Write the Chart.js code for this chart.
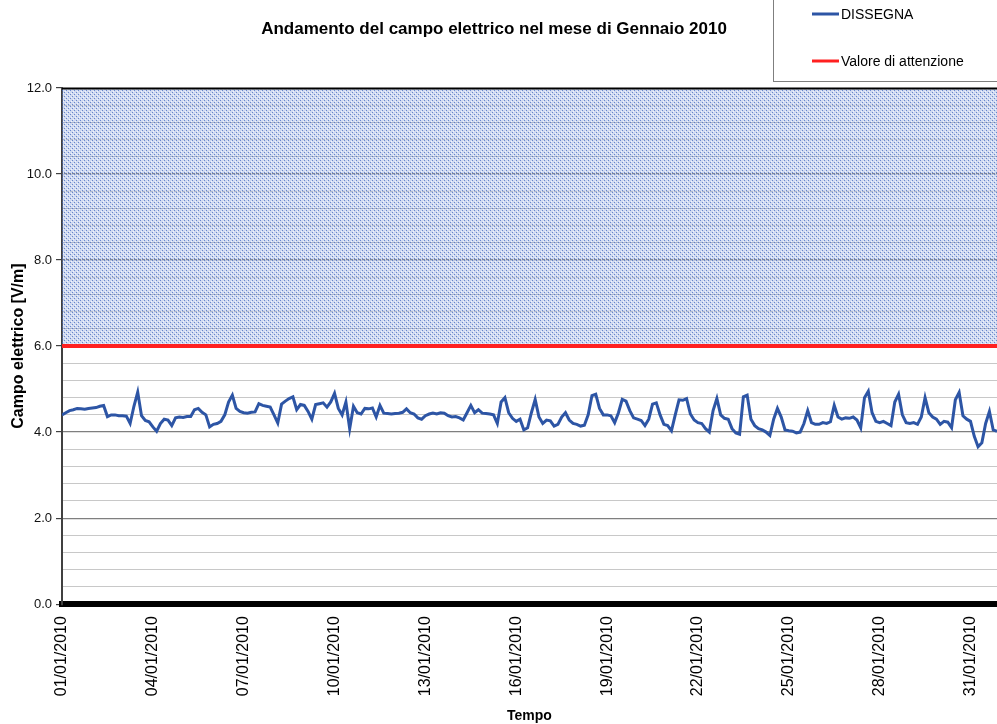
<!DOCTYPE html>
<html>
<head>
<meta charset="utf-8">
<script src="https://cdn.jsdelivr.net/npm/chart.js@4.4.1/dist/chart.umd.min.js"></script>
<style>
  html, body { margin: 0; padding: 0; background: #fff; }
  #wrap { width: 997px; height: 724px; }
</style>
</head>
<body>
<div id="wrap"><canvas id="grafico" width="997" height="724"></canvas></div>
<script>
// campo elettrico ogni 3 ore, gennaio 2010 (8 valori al giorno)
const dissegna = [
  4.40, 4.45, 4.50, 4.52, 4.55, 4.54, 4.53, 4.55,
  4.56, 4.57, 4.60, 4.62, 4.36, 4.40, 4.40, 4.38,
  4.38, 4.37, 4.20, 4.60, 4.93, 4.38, 4.27, 4.24,
  4.12, 4.02, 4.20, 4.30, 4.28, 4.15, 4.33, 4.35,
  4.34, 4.36, 4.36, 4.52, 4.55, 4.46, 4.40, 4.12,
  4.18, 4.20, 4.25, 4.40, 4.70, 4.86, 4.55, 4.48,
  4.45, 4.44, 4.46, 4.47, 4.66, 4.62, 4.60, 4.58,
  4.40, 4.21, 4.65, 4.72, 4.78, 4.82, 4.52, 4.64,
  4.62, 4.48, 4.30, 4.64, 4.66, 4.68, 4.58, 4.70,
  4.90, 4.55, 4.40, 4.70, 4.08, 4.60, 4.45, 4.42,
  4.55, 4.54, 4.56, 4.35, 4.62, 4.44, 4.43, 4.42,
  4.43, 4.44, 4.46, 4.54, 4.45, 4.42, 4.33, 4.30,
  4.38, 4.42, 4.44, 4.42, 4.45, 4.44, 4.38, 4.35,
  4.36, 4.33, 4.28, 4.45, 4.62, 4.45, 4.52, 4.44,
  4.43, 4.42, 4.40, 4.20, 4.70, 4.80, 4.45, 4.32,
  4.25, 4.30, 4.05, 4.10, 4.45, 4.76, 4.35, 4.20,
  4.28, 4.26, 4.14, 4.18, 4.35, 4.45, 4.28, 4.20,
  4.18, 4.14, 4.16, 4.40, 4.85, 4.88, 4.55, 4.40,
  4.40, 4.38, 4.22, 4.45, 4.76, 4.72, 4.50, 4.33,
  4.30, 4.27, 4.15, 4.30, 4.65, 4.68, 4.40, 4.18,
  4.15, 4.03, 4.40, 4.75, 4.74, 4.78, 4.42, 4.28,
  4.22, 4.20, 4.08, 4.00, 4.50, 4.78, 4.40, 4.32,
  4.30, 4.08, 3.98, 3.95, 4.82, 4.86, 4.30, 4.15,
  4.08, 4.05, 4.00, 3.92, 4.30, 4.55, 4.35, 4.05,
  4.03, 4.02, 3.98, 4.00, 4.20, 4.50, 4.22, 4.18,
  4.18, 4.22, 4.20, 4.24, 4.62, 4.35, 4.30, 4.33,
  4.32, 4.35, 4.28, 4.10, 4.80, 4.95, 4.45, 4.25,
  4.22, 4.25, 4.20, 4.15, 4.70, 4.88, 4.40, 4.22,
  4.20, 4.22, 4.18, 4.35, 4.80, 4.45, 4.35, 4.30,
  4.18, 4.25, 4.23, 4.10, 4.75, 4.92, 4.38, 4.30,
  4.25, 3.90, 3.66, 3.75, 4.20, 4.48, 4.05, 4.02
];
const passoOre = 3;
const valoreAttenzione = 6;
const limiteSuperiore = 12;
const fineOre = 741; // il grafico originale e' tagliato a destra
const etichetteDate = ['01/01/2010', '04/01/2010', '07/01/2010', '10/01/2010', '13/01/2010', '16/01/2010',
  '19/01/2010', '22/01/2010', '25/01/2010', '28/01/2010', '31/01/2010'];
const titolo = 'Andamento del campo elettrico nel mese di Gennaio 2010';

const font = "'Liberation Sans', Arial, sans-serif";

// retino azzurro per la zona sopra il valore di attenzione
function creaRetino() {
  const c = document.createElement('canvas');
  c.width = 4; c.height = 4;
  const g = c.getContext('2d');
  g.fillStyle = 'rgba(120,150,215,0.35)';
  g.fillRect(0, 0, 4, 4);
  g.fillStyle = 'rgba(70,105,190,0.75)';
  g.fillRect(0, 0, 1, 1);
  g.fillRect(2, 2, 1, 1);
  g.fillStyle = 'rgba(255,255,255,0.7)';
  g.fillRect(1, 3, 1, 1);
  g.fillRect(3, 1, 1, 1);
  return g.createPattern(c, 'repeat');
}

const isMaggiore = v => Math.abs(v / 2 - Math.round(v / 2)) < 1e-6;

const legendaManuale = {
  id: 'legendaManuale',
  afterDraw(chart) {
    const ctx = chart.ctx;
    ctx.save();
    ctx.fillStyle = '#fff';
    ctx.fillRect(773, -2, 230, 84);
    ctx.strokeStyle = '#7f7f7f';
    ctx.lineWidth = 1;
    ctx.strokeRect(773.5, -2, 230, 83.5);
    const voci = chart.data.datasets.filter(d => d.label);
    const righe = [14, 61];
    ctx.font = '14px ' + font;
    ctx.textBaseline = 'middle';
    voci.forEach((d, i) => {
      ctx.strokeStyle = d.borderColor;
      ctx.lineWidth = 3;
      ctx.beginPath();
      ctx.moveTo(812, righe[i]);
      ctx.lineTo(839, righe[i]);
      ctx.stroke();
      ctx.fillStyle = '#000';
      ctx.fillText(d.label, 841, righe[i] + 1);
    });
    ctx.font = 'bold 17px ' + font;
    ctx.textAlign = 'center';
    ctx.fillText(titolo, 494, 29);
    ctx.restore();
  }
};

const sfondoBianco = {
  id: 'sfondoBianco',
  beforeDraw(chart) {
    const ctx = chart.ctx;
    ctx.save();
    ctx.fillStyle = '#fff';
    ctx.fillRect(0, 0, chart.width, chart.height);
    ctx.restore();
  }
};

new Chart(document.getElementById('grafico'), {
  type: 'line',
  data: {
    datasets: [
      {
        label: 'DISSEGNA',
        data: dissegna.map((v, i) => ({ x: i * passoOre, y: v })),
        borderColor: '#2d55a5',
        borderWidth: 3,
        pointRadius: 0,
        tension: 0,
        order: 1
      },
      {
        label: 'Valore di attenzione',
        data: [{ x: 0, y: valoreAttenzione }, { x: fineOre, y: valoreAttenzione }],
        borderColor: '#ff2020',
        borderWidth: 4,
        pointRadius: 0,
        order: 0
      },
      {
        label: '',
        data: [{ x: 0, y: limiteSuperiore }, { x: fineOre, y: limiteSuperiore }],
        borderColor: '#000',
        borderWidth: 3,
        backgroundColor: creaRetino(),
        fill: { value: valoreAttenzione },
        pointRadius: 0,
        order: 2
      }
    ]
  },
  options: {
    responsive: false,
    animation: false,
    layout: { padding: { top: 88, right: 0, left: 0, bottom: -1 } },
    plugins: {
      legend: { display: false },
      title: { display: false },
      tooltip: { enabled: false }
    },
    scales: {
      x: {
        type: 'linear',
        min: 0,
        max: fineOre,
        afterFit(scale) { scale.paddingRight = 0; scale.paddingLeft = 0; },
        grid: { display: false, drawTicks: false },
        border: { color: '#000', width: 6 },
        title: { display: true, text: 'Tempo', color: '#000', font: { family: font, size: 14, weight: 'bold' }, padding: { top: 0, bottom: 0 } },
        ticks: {
          stepSize: 72,
          includeBounds: false,
          autoSkip: false,
          minRotation: 90,
          maxRotation: 90,
          padding: 12,
          color: '#000',
          font: { family: font, size: 16 },
          callback: (v) => etichetteDate[Math.round(v / 72)] || ''
        }
      },
      y: {
        min: 0,
        max: limiteSuperiore,
        afterFit(scale) { scale.width = 62; },
        border: { color: '#404040', width: 2 },
        grid: {
          color: c => isMaggiore(c.tick.value) ? '#7f7f7f' : '#c8c8c8',
          lineWidth: c => isMaggiore(c.tick.value) ? 1.2 : 1,
          tickColor: c => isMaggiore(c.tick.value) ? '#404040' : 'rgba(0,0,0,0)',
          tickLength: 6
        },
        title: { display: true, text: 'Campo elettrico [V/m]', color: '#000', font: { family: font, size: 16, weight: 'bold' }, padding: { top: 9, bottom: 0 } },
        ticks: {
          stepSize: 0.4,
          autoSkip: false,
          padding: 4,
          color: '#111',
          font: { family: font, size: 13 },
          callback: v => isMaggiore(v) ? v.toFixed(1) : ''
        }
      }
    }
  },
  plugins: [sfondoBianco, legendaManuale]
});
</script>
</body>
</html>
